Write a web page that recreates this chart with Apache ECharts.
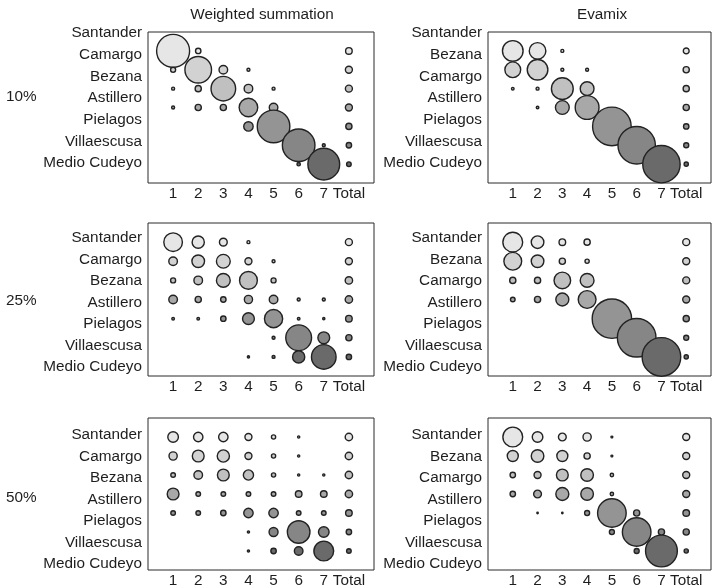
<!DOCTYPE html>
<html><head><meta charset="utf-8">
<script src="https://cdn.jsdelivr.net/npm/echarts@6/dist/echarts.min.js"></script>
<style>html,body{margin:0;padding:0;background:#fff}#c{width:714px;height:588px}</style>
</head><body><div id="c"></div>
<script>
const colLabels = ['1','2','3','4','5','6','7','Total'];
const wsRows = ['Santander','Camargo','Bezana','Astillero','Pielagos','Villaescusa','Medio Cudeyo'];
const evRows = ['Santander','Bezana','Camargo','Astillero','Pielagos','Villaescusa','Medio Cudeyo'];
const methods = ['Weighted summation','Evamix'];
const levels = ['10%','25%','50%'];

// rows x (ranks 1..7, Total)
const ws10 = [
  [81,12,0,0,0,0,0,15],
  [11,65,20,6,0,0,0,16],
  [6,14,60,20,6,0,0,16],
  [6,14,14,45,20,0,0,16],
  [0,0,0,22,80,0,0,14],
  [0,0,0,0,0,80,6,12],
  [0,0,0,0,0,7,78,10]
];
const ev10 = [
  [50,40,6,0,0,0,0,13],
  [38,50,6,6,0,0,0,14],
  [5,6,53,33,0,0,0,14],
  [0,5,33,58,0,0,0,14],
  [0,0,0,0,95,0,0,12],
  [0,0,0,0,0,92,0,11],
  [0,0,0,0,0,0,92,9]
];
const ws25 = [
  [45,29,18,6,0,0,0,16],
  [20,30,33,16,6,0,0,16],
  [11,20,33,43,11,0,0,17],
  [20,14,12,19,20,6,6,17],
  [5,5,12,28,44,5,4,15],
  [0,0,0,0,6,63,28,14],
  [0,0,0,4,6,29,60,12]
];
const ev25 = [
  [48,30,15,14,0,0,0,16],
  [43,30,14,9,0,0,0,16],
  [14,14,40,33,0,0,0,16],
  [10,14,31,43,0,0,0,16],
  [0,0,0,0,97,0,0,14],
  [0,0,0,0,0,95,0,11],
  [0,0,0,0,0,0,95,9]
];
const ws50 = [
  [25,22,22,16,9,4,0,17],
  [19,28,29,16,9,4,0,17],
  [10,20,28,24,9,4,4,17],
  [28,10,10,10,10,15,15,17],
  [10,10,12,22,22,10,10,15],
  [0,0,0,4,21,55,25,12],
  [0,0,0,4,12,20,48,10]
];
const ev50 = [
  [48,25,18,19,3,0,0,16],
  [26,30,26,14,3,0,0,16],
  [12,16,28,30,7,0,0,16],
  [12,18,31,30,7,0,0,16],
  [0,2,2,11,70,14,0,15],
  [0,0,0,0,11,70,14,14],
  [0,0,0,0,0,11,78,9]
];

const panels = [
  [ws10, ev10],
  [ws25, ev25],
  [ws50, ev50]
];
const rowNames = [wsRows, evRows];

const shades = ['#e6e6e6','#d2d2d2','#c0c0c0','#a8a8a8','#949494','#868686','#6a6a6a'];
const FONT = 'Liberation Sans, Arial, Helvetica, sans-serif';
const TXT = '#1e1e1e';
const SIZE_SCALE = 0.4;

const boxTop = [32, 223, 418];
const boxH = [151, 153, 153];
const lblTop = [33, 238, 435];
const lblH = [130, 129, 129];
const boxLeft = [148, 488];
const boxW = [226, 231];
const titleX = [257, 597];

const grid = [], xAxis = [], yAxis = [], series = [], title = [];

methods.forEach((m, c) => {
  title.push({text: m, left: titleX[c], top: 2, textAlign: 'center',
    textStyle: {fontFamily: FONT, fontSize: 15.3, fontWeight: 'normal', color: TXT}});
});
levels.forEach((l, r) => {
  title.push({text: l, left: 1, top: lblTop[r] + lblH[r] / 2 - 14,
    textStyle: {fontFamily: FONT, fontSize: 15.3, fontWeight: 'normal', color: TXT}});
});

for (let r = 0; r < 3; r++) {
  for (let c = 0; c < 2; c++) {
    const mat = panels[r][c];
    const gi = grid.length;
    grid.push({left: boxLeft[c], top: boxTop[r], width: boxW[c], height: boxH[r],
      show: true, borderColor: '#2a2a2a', borderWidth: 1, backgroundColor: 'transparent'});
    xAxis.push({gridIndex: gi, type: 'value', min: 0, max: 9, interval: 1,
      axisLine: {show: false}, axisTick: {show: false}, splitLine: {show: false},
      axisLabel: {margin: 3, fontFamily: FONT, fontSize: 15.3, color: TXT,
        formatter: v => colLabels[v - 1] || ''}});
    yAxis.push({gridIndex: gi, type: 'value', min: 0, max: 8, inverse: true,
      axisLine: {show: false}, axisTick: {show: false}, splitLine: {show: false}, axisLabel: {show: false}});
    const data = [];
    mat.forEach((row, i) => row.forEach((v, j) => { if (v > 0) data.push([j + 1, i + 1, v]); }));
    series.push({type: 'scatter', xAxisIndex: gi, yAxisIndex: gi, data,
      symbolSize: d => d[2] * SIZE_SCALE + 0.6,
      itemStyle: {
        color: p => shades[p.data[1] - 1],
        borderColor: '#222',
        borderWidth: 1.4,
        opacity: 1
      },
      silent: true, z: 3});
    const li = grid.length;
    grid.push({left: boxLeft[c], top: lblTop[r], width: boxW[c], height: lblH[r], show: false});
    xAxis.push({gridIndex: li, type: 'value', show: false});
    yAxis.push({gridIndex: li, type: 'category', data: rowNames[c], inverse: true, boundaryGap: false,
      axisLine: {show: false}, axisTick: {show: false}, splitLine: {show: false},
      axisLabel: {margin: 6, fontFamily: FONT, fontSize: 15.3, color: TXT, interval: 0}});
  }
}

const chart = echarts.init(document.getElementById('c'), null, {renderer: 'canvas'});
chart.setOption({animation: false, backgroundColor: '#fff', title, grid, xAxis, yAxis, series});
</script></body></html>
